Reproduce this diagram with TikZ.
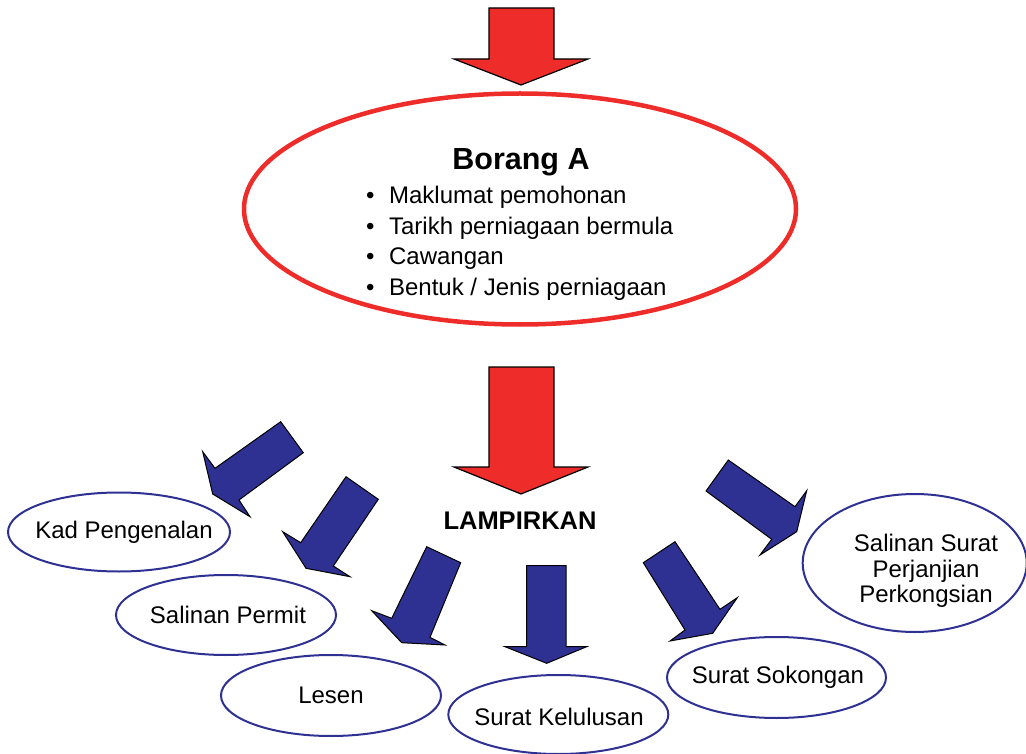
\documentclass[tikz,border=0pt]{standalone}
\usepackage{fontspec}
\setmainfont{Liberation Sans}
\usetikzlibrary{shapes.geometric}
\definecolor{redA}{HTML}{EE2D2A}
\definecolor{blueA}{HTML}{2E3192}
\begin{document}
\begin{tikzpicture}[x=1pt,y=-1pt,
  redarrow/.style={fill=redA,draw=black,line width=1.2pt,line join=miter},
  bluearrow/.style={fill=blueA,draw=black,line width=1pt,line join=miter},
  item/.style={ellipse,draw=blueA,line width=2pt,inner sep=0pt},
  itemtext/.style={inner sep=0pt,align=center,font=\fontsize{24}{25.5}\selectfont},
]
\useasboundingbox (0,0) rectangle (1026,754);

% red arrows
\draw[redarrow] (489,8) -- (554,8) -- (554,59) -- (588,59) -- (521,85) -- (454,59) -- (489,59) -- cycle;
\draw[redarrow] (489,367) -- (554,367) -- (554,467) -- (588,467) -- (521,494) -- (454,467) -- (489,467) -- cycle;

% main ellipse
\node[ellipse,draw=redA,line width=4.5pt,minimum width=552pt,minimum height=231pt,inner sep=0pt] (borang) at (520,209) {};
\node[inner sep=0pt,font=\bfseries\fontsize{30.5}{32}\selectfont] (title) at (521,162.5) {Borang A};
\node[inner sep=0pt,anchor=base west,font=\fontsize{24}{30.5}\selectfont] (list) at (366,204)
  {\begin{tabular}[t]{@{}l@{\hspace{14.5pt}}l@{}}
   • & Maklumat pemohonan\\
   • & Tarikh perniagaan bermula\\
   • & Cawangan\\
   • & Bentuk / Jenis perniagaan
   \end{tabular}};

\node[inner sep=0pt,font=\bfseries\fontsize{25.5}{27}\selectfont] (lamp) at (520,521) {LAMPIRKAN};

% blue arrows
\draw[bluearrow] (280.7,421.7) -- (303.3,452.7) -- (239,500) -- (250,516.7) -- (212.7,494) -- (202.7,451.7) -- (215,468.3) -- cycle;
\draw[bluearrow] (346,476.7) -- (378.3,499.3) -- (333.3,566) -- (350,576.7) -- (306,568.3) -- (282.7,531.7) -- (300.7,542.7) -- cycle;
\draw[bluearrow] (426.7,546.7) -- (460.7,562.7) -- (430,637.3) -- (445,645) -- (401.7,642.7) -- (371.7,610.7) -- (391.7,618.3) -- cycle;
\draw[bluearrow] (526.7,565.7) -- (566,565.7) -- (566,646.7) -- (586.7,646.7) -- (546.7,663.3) -- (505,646.7) -- (526.7,646.7) -- cycle;
\draw[bluearrow] (643.3,562.7) -- (675,541.7) -- (720,609.3) -- (737.3,597.7) -- (712.7,633.3) -- (670,641) -- (685,630) -- cycle;
\draw[bluearrow] (728.3,460) -- (795,506.7) -- (806.7,490.7) -- (796.7,531.7) -- (760,555) -- (771.7,539.3) -- (706,491) -- cycle;

% item ellipses
\node[item,minimum width=222pt,minimum height=79pt] (kad) at (119,532) {};
\node[itemtext] (kadt) at (124,532) {Kad Pengenalan};
\node[item,minimum width=220pt,minimum height=80pt] (permit) at (226,615) {};
\node[itemtext] (permitt) at (228,615) {Salinan Permit};
\node[item,minimum width=220pt,minimum height=81pt] (lesen) at (331,695.5) {};
\node[itemtext] (lesent) at (331,695.5) {Lesen};
\node[item,minimum width=220pt,minimum height=79pt] (kelulusan) at (558.3,714.5) {};
\node[itemtext] (kelulusant) at (559,716.5) {Surat Kelulusan};
\node[item,minimum width=219pt,minimum height=81pt] (sokongan) at (776.5,677.5) {};
\node[itemtext] (sokongant) at (778,677.5) {Surat Sokongan};
\node[item,minimum width=224pt,minimum height=138pt] (salinan) at (914.7,563) {};
\node[itemtext] (salinant) at (926,571) {Salinan Surat\\Perjanjian\\Perkongsian};
\end{tikzpicture}
\end{document}
